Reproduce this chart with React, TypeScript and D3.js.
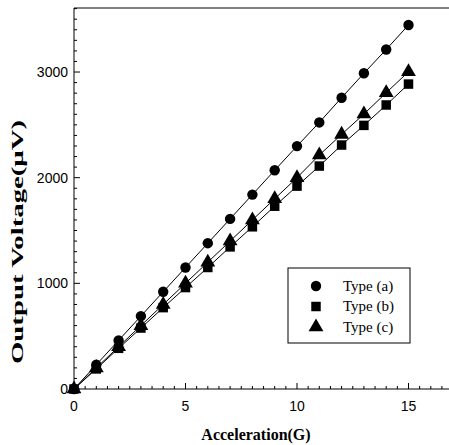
import * as d3 from 'd3';

const accel = [0, 1, 2, 3, 4, 5, 6, 7, 8, 9, 10, 11, 12, 13, 14, 15];
const typeA = [0, 230, 460, 690, 920, 1150, 1380, 1610, 1840, 2070, 2299, 2523, 2757, 2988, 3213, 3445];
const typeB = [0, 190, 385, 577, 770, 960, 1150, 1345, 1535, 1730, 1920, 2110, 2309, 2495, 2688, 2886];
const typeC = [0, 200, 400, 600, 800, 1000, 1200, 1400, 1600, 1800, 2000, 2214, 2410, 2602, 2804, 3003];
const seriesNames = ['Type (a)', 'Type (b)', 'Type (c)'];
const xTicks = [0, 5, 10, 15];
const yTicks = [0, 1000, 2000, 3000];

const W = 449;
const H = 445;
const left = 74;
const top = 8;
const bottom = 389;

const x = d3.scaleLinear().domain([0, 17]).range([left, left + 17 * 22.3]);
const y = d3.scaleLinear().domain([0, 3606]).range([bottom, top]);

const serif = '"Liberation Serif", "Times New Roman", serif';
const sans = '"Liberation Sans", Arial, sans-serif';

const allSeries = [typeA, typeB, typeC];
const symbols = [d3.symbolCircle, d3.symbolSquare, d3.symbolTriangle];
const symbolSizes = [85, 90, 95];

function Marker({ kind, cx, cy }: { kind: number; cx: number; cy: number }) {
  const path = d3.symbol().type(symbols[kind]).size(symbolSizes[kind])() ?? '';
  return <path d={path} transform={`translate(${cx},${cy})`} fill="#000" />;
}

export default function App() {
  const line = d3
    .line<number>()
    .x((_, i) => x(accel[i]))
    .y((d) => y(d));

  const xMinor = d3.range(0, 17.01, 0.5);
  const yMinor = d3.range(0, 3601, 100);

  return (
    <svg
      width={W}
      height={H}
      style={{ position: 'absolute', left: 0, top: 0, background: '#fff' }}
    >
      {/* frame */}
      <line x1={left} x2={W} y1={top} y2={top} stroke="#000" strokeWidth={1} />
      <line x1={left} x2={left} y1={top} y2={bottom} stroke="#000" strokeWidth={1} />
      <line x1={left} x2={W} y1={bottom} y2={bottom} stroke="#000" strokeWidth={1} />

      {/* x ticks */}
      {xMinor.map((t) => {
        const major = t % 5 === 0;
        return (
          <line
            key={'xt' + t}
            x1={x(t)}
            x2={x(t)}
            y1={bottom}
            y2={bottom - (major ? 6 : 3)}
            stroke="#000"
            strokeWidth={1}
          />
        );
      })}
      {xTicks.map((t) => (
        <text key={'xl' + t} x={x(t)} y={411} textAnchor="middle" fontFamily={sans} fontSize={14}>
          {t}
        </text>
      ))}

      {/* y ticks */}
      {yMinor.map((t) => {
        const major = t % 1000 === 0;
        return (
          <line
            key={'yt' + t}
            x1={left}
            x2={left + (major ? 6 : 3)}
            y1={y(t)}
            y2={y(t)}
            stroke="#000"
            strokeWidth={1}
          />
        );
      })}
      {yTicks.map((t) => (
        <text
          key={'yl' + t}
          x={left - 6}
          y={y(t)}
          dy="0.36em"
          textAnchor="end"
          fontFamily={sans}
          fontSize={14}
        >
          {t}
        </text>
      ))}

      {/* series lines */}
      {allSeries.map((s, k) => (
        <path key={'ln' + k} d={line(s) ?? ''} fill="none" stroke="#000" strokeWidth={1} />
      ))}
      {allSeries.map((s, k) =>
        s.map((v, i) => <Marker key={`m${k}-${i}`} kind={k} cx={x(accel[i])} cy={y(v)} />)
      )}

      {/* legend */}
      <rect x={288} y={268} width={122} height={75} fill="#fff" stroke="#000" strokeWidth={1} />
      {seriesNames.map((n, k) => (
        <g key={'lg' + k}>
          <Marker kind={k} cx={316} cy={286 + k * 20.5} />
          <text x={343} y={286 + k * 20.5} dy="0.33em" fontFamily={serif} fontSize={15}>
            {n}
          </text>
        </g>
      ))}

      {/* axis titles */}
      <text
        x={256}
        y={440}
        textAnchor="middle"
        fontFamily={serif}
        fontWeight="bold"
        fontSize={16}
      >
        Acceleration(G)
      </text>
      <text
        transform={`translate(23, 242) rotate(-90)`}
        textAnchor="middle"
        fontFamily={serif}
        fontWeight="bold"
        fontSize={17}
        textLength={244}
        lengthAdjust="spacingAndGlyphs"
      >
        Output Voltage(μV)
      </text>
    </svg>
  );
}
